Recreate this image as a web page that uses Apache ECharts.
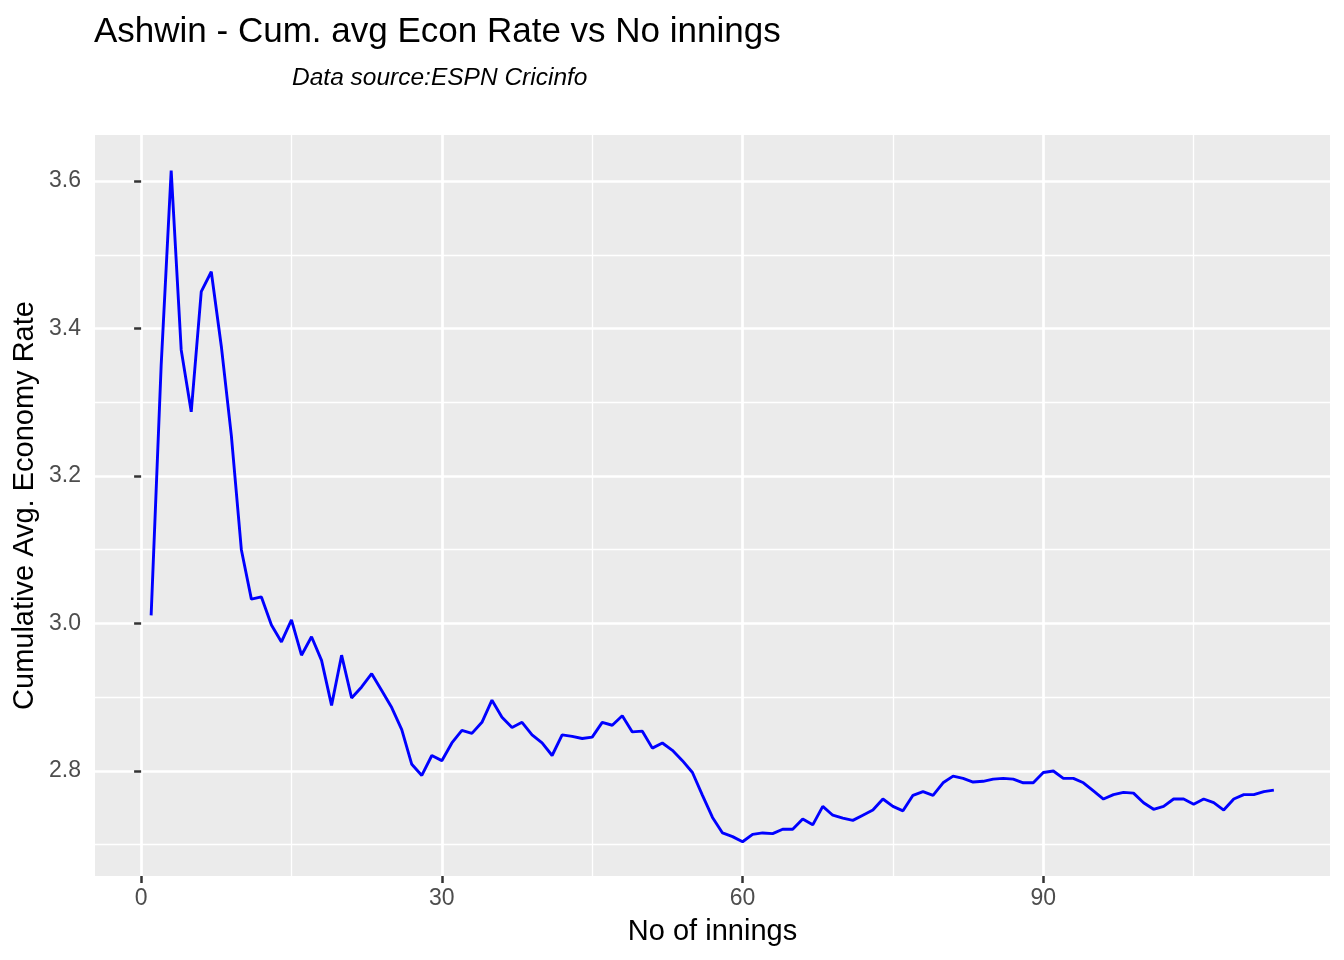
<!DOCTYPE html>
<html>
<head>
<meta charset="utf-8">
<title>Ashwin - Cum. avg Econ Rate</title>
<script src="https://cdn.jsdelivr.net/npm/echarts@6/dist/echarts.min.js"></script>
<style>
  html, body { margin: 0; padding: 0; background: #fff; }
  #chart { width: 1344px; height: 960px; }
</style>
</head>
<body>
<div id="chart"></div>
<script>
// cumulative average economy rate, one value per innings (1..113)
const econRate = [
  3.011, 3.350, 3.614, 3.371, 3.287, 3.450, 3.477, 3.376, 3.255, 3.100,
  3.033, 3.036, 2.998, 2.975, 3.005, 2.957, 2.982, 2.950, 2.889, 2.957,
  2.899, 2.914, 2.932, 2.909, 2.886, 2.856, 2.809, 2.794, 2.821, 2.814,
  2.838, 2.855, 2.851, 2.866, 2.896, 2.873, 2.859, 2.866, 2.849, 2.838,
  2.821, 2.849, 2.847, 2.844, 2.846, 2.866, 2.862, 2.875, 2.853, 2.854,
  2.831, 2.838, 2.828, 2.814, 2.798, 2.767, 2.737, 2.716, 2.711, 2.704,
  2.714, 2.716, 2.715, 2.721, 2.721, 2.735, 2.727, 2.752, 2.740, 2.736,
  2.733, 2.740, 2.747, 2.762, 2.752, 2.746, 2.767, 2.772, 2.767, 2.784,
  2.793, 2.790, 2.785, 2.786, 2.789, 2.790, 2.789, 2.784, 2.784, 2.798,
  2.800, 2.790, 2.790, 2.784, 2.773, 2.762, 2.768, 2.771, 2.770, 2.757,
  2.748, 2.752, 2.762, 2.762, 2.755, 2.762, 2.757, 2.747, 2.762, 2.768,
  2.768, 2.772, 2.774
];

// axis breaks
const xMajor = [0, 30, 60, 90];
const xMinor = [15, 45, 75, 105];
const yMajor = [2.8, 3.0, 3.2, 3.4, 3.6];
const yMinor = [2.7, 2.9, 3.1, 3.3, 3.5];

const font = 'Liberation Sans, Arial, Helvetica, sans-serif';
const xRange = [-4.6, 118.6];
const yRange = [2.6576, 3.6624];

const points = econRate.map((v, i) => [i + 1, v]);

const chart = echarts.init(document.getElementById('chart'));

// major axis: ticks, labels and thick grid lines
function majorAxis(range, ticks, fmt, pos, margin) {
  return {
    type: 'value',
    position: pos,
    min: range[0],
    max: range[1],
    axisLine: { show: false },
    axisTick: {
      show: true,
      customValues: ticks,
      length: 7,
      lineStyle: { color: '#333333', width: 2.5 }
    },
    axisLabel: {
      customValues: ticks,
      formatter: fmt,
      fontFamily: font,
      fontSize: 23,
      color: '#4D4D4D',
      margin: margin
    },
    splitLine: { show: true, lineStyle: { color: '#FFFFFF', width: 2.7 } },
    z: 2
  };
}

// minor axis: only thin grid lines
function minorAxis(range, ticks, pos) {
  return {
    type: 'value',
    position: pos,
    min: range[0],
    max: range[1],
    axisLine: { show: false },
    axisTick: { show: false, customValues: ticks },
    axisLabel: { show: false, customValues: ticks },
    splitLine: { show: true, lineStyle: { color: '#FFFFFF', width: 1.3 } },
    z: 1
  };
}

const xMain = majorAxis(xRange, xMajor, v => String(v), 'bottom', 11);
xMain.name = 'No of innings';
xMain.nameLocation = 'middle';
xMain.nameGap = 41;
xMain.nameTextStyle = { fontFamily: font, fontSize: 29, color: '#000000' };

const yMain = majorAxis(yRange, yMajor, v => v.toFixed(1), 'left', 14);
yMain.name = 'Cumulative Avg. Economy Rate';
yMain.nameLocation = 'middle';
yMain.nameGap = 56;
yMain.nameMoveOverlap = false;
yMain.nameTextStyle = { fontFamily: font, fontSize: 29, color: '#000000' };

const option = {
  animation: false,
  backgroundColor: '#FFFFFF',
  title: [
    {
      text: 'Ashwin - Cum. avg Econ Rate vs No innings',
      left: 94,
      top: 15,
      padding: 0,
      textStyle: { fontFamily: font, fontSize: 35, fontWeight: 'normal', color: '#000000' }
    },
    {
      text: 'Data source:ESPN Cricinfo',
      left: 292,
      top: 66,
      padding: 0,
      textStyle: { fontFamily: font, fontSize: 24.5, fontStyle: 'italic', fontWeight: 'normal', color: '#000000' }
    }
  ],
  grid: {
    left: 95,
    right: 14,
    top: 135,
    bottom: 84,
    show: true,
    backgroundColor: '#EBEBEB',
    borderWidth: 0,
    containLabel: false,
    outerBoundsMode: 'none'
  },
  xAxis: [xMain, minorAxis(xRange, xMinor, 'top')],
  yAxis: [yMain, minorAxis(yRange, yMinor, 'right')],
  series: [{
    type: 'line',
    xAxisIndex: 0,
    yAxisIndex: 0,
    data: points,
    showSymbol: false,
    lineStyle: { color: '#0000FF', width: 2.9 },
    z: 5
  }]
};

chart.setOption(option);
</script>
</body>
</html>
